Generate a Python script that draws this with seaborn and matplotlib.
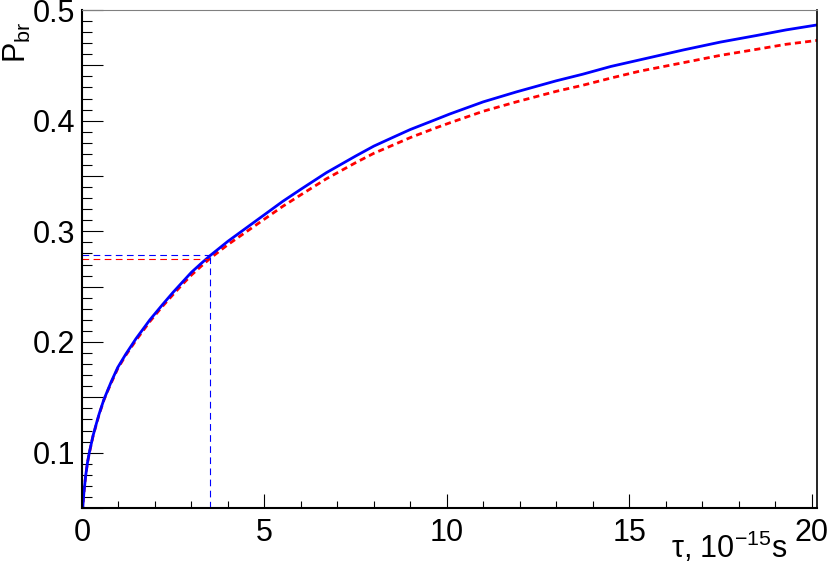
import numpy as np
import pandas as pd
import seaborn as sns
import matplotlib.pyplot as plt
from matplotlib.ticker import MultipleLocator, FuncFormatter

# values
tau_blue = [0.015, 0.025, 0.05, 0.1, 0.15, 0.2, 0.3, 0.4, 0.47, 0.6, 0.7, 0.8, 0.98,
            1.2, 1.48, 1.86, 2.2, 2.5, 2.75, 3.0, 3.25, 3.51, 4.0, 4.5, 5.0, 5.5,
            6.0, 6.7, 7.5, 8.0, 8.53, 9.0, 9.62, 10.08, 11.0, 11.91, 13.0, 13.73,
            14.5, 15.3, 16.5, 17.5, 18.5, 19.3, 20.15]
p_blue = [0.046, 0.052, 0.063, 0.079, 0.091, 0.100, 0.115, 0.127, 0.135, 0.148, 0.156,
          0.164, 0.177, 0.189, 0.203, 0.220, 0.2335, 0.245, 0.254, 0.263, 0.2705,
          0.278, 0.291, 0.303, 0.315, 0.327, 0.338, 0.353, 0.368, 0.377, 0.385,
          0.392, 0.400, 0.406, 0.417, 0.426, 0.436, 0.442, 0.449, 0.455, 0.464,
          0.471, 0.477, 0.482, 0.4865]

tau_red = tau_blue
p_red = [0.046, 0.052, 0.063, 0.079, 0.091, 0.0995, 0.1145, 0.1265, 0.1345, 0.1475,
         0.1555, 0.163, 0.176, 0.188, 0.2015, 0.2185, 0.232, 0.243, 0.252, 0.2605,
         0.268, 0.2755, 0.288, 0.2995, 0.311, 0.3225, 0.333, 0.3475, 0.362, 0.3705,
         0.378, 0.3847, 0.3925, 0.398, 0.4085, 0.417, 0.4265, 0.432, 0.4385, 0.4448,
         0.4525, 0.459, 0.4645, 0.469, 0.4725]

tau_mark = 3.51
tau_mark_red = 3.45
p_mark_blue = 0.2783
p_mark_red = 0.275

sns.set_style("white")
plt.rcParams['font.family'] = ['Liberation Sans', 'DejaVu Sans']
plt.rcParams['mathtext.fontset'] = 'custom'
plt.rcParams['mathtext.rm'] = 'Liberation Sans'
plt.rcParams['mathtext.it'] = 'Liberation Sans:italic'
plt.rcParams['text.color'] = 'black'
plt.rcParams['xtick.color'] = 'black'
plt.rcParams['ytick.color'] = 'black'

blue = pd.DataFrame({"tau": tau_blue, "p": p_blue})
red = pd.DataFrame({"tau": tau_red, "p": p_red})

fig = plt.figure(figsize=(8.3, 5.66), dpi=100)
ax = fig.add_axes([82 / 830, 58 / 566, 735 / 830, 498 / 566])

sns.lineplot(data=red, x="tau", y="p", ax=ax, color="#ff0000", lw=2.0,
             estimator=None, sort=False)
ax.lines[-1].set_dashes((2.2, 1.5))
sns.lineplot(data=blue, x="tau", y="p", ax=ax, color="#0000ff", lw=2.0,
             estimator=None, sort=False)

ax.hlines(p_mark_red, 0, tau_mark_red, color="#ff0000", lw=0.8, linestyles=(0, (6, 4)))
ax.hlines(p_mark_blue, 0, tau_mark, color="#0000ff", lw=0.8, linestyles=(0, (6, 4)))
ax.vlines(tau_mark, 0.05, p_mark_blue, color="#0000ff", lw=0.8, linestyles=(0, (6, 4)))

ax.set_xlim(0, 20.15)
ax.set_ylim(0.05, 0.5)

ax.xaxis.set_major_locator(MultipleLocator(5))
ax.xaxis.set_minor_locator(MultipleLocator(1))
ax.yaxis.set_major_locator(MultipleLocator(0.05))
ax.yaxis.set_minor_locator(MultipleLocator(0.01))
ax.yaxis.set_major_formatter(FuncFormatter(
    lambda v, pos: f"{v:.1f}" if round(v * 100) % 10 == 0 else ""))
ax.xaxis.set_major_formatter(FuncFormatter(lambda v, pos: f"{v:g}"))

ax.tick_params(axis="both", which="both", direction="in", width=0.8, color="black",
               labelsize=22, labelcolor="black", top=False, right=False,
               bottom=True, left=True)
ax.tick_params(axis="y", which="major", length=15, pad=5)
ax.tick_params(axis="y", which="minor", length=7.5)
ax.tick_params(axis="x", which="major", length=10, pad=7)
ax.tick_params(axis="x", which="minor", length=5)

for side in ["left", "bottom"]:
    ax.spines[side].set_linewidth(1.5)
    ax.spines[side].set_color("black")
ax.spines["right"].set_linewidth(1.2)
ax.spines["right"].set_color("black")
ax.spines["top"].set_linewidth(0.8)
ax.spines["top"].set_color("#808080")

ax.set_xlabel("")
ax.set_ylabel("")
fig.text(787 / 830, 1 / 566, r"τ, 10$^{\mathregular{-15}}$s", fontsize=22,
         ha="right", va="bottom")
fig.text(17 / 830, 1 - 22 / 566, r"P$_{\mathregular{br}}$", fontsize=22,
         rotation=90, ha="center", va="top")

fig.savefig("out.png", dpi=100)
